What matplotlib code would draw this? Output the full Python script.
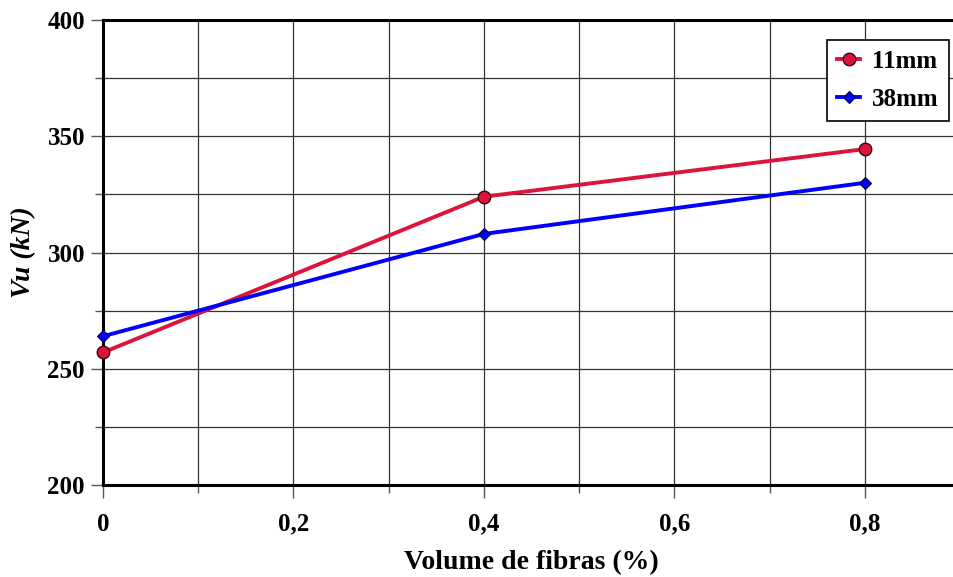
import matplotlib
matplotlib.use("Agg")
import matplotlib.pyplot as plt
from matplotlib.ticker import MultipleLocator, FuncFormatter

plt.rcParams['font.family'] = ['Liberation Serif', 'DejaVu Serif']
plt.rcParams['font.weight'] = 'bold'

# data
volume = [0.0, 0.4, 0.8]
vu_11mm = [257, 324, 344.5]
vu_38mm = [264, 308, 330]

fig = plt.figure(figsize=(9.54, 5.77), dpi=100)
ax = fig.add_axes([0.108, 0.1594, 0.8983, 0.8059])

ax.plot(volume, vu_11mm, color="#dc143c", lw=2.8, marker="o", ms=9,
        mec="#3a0010", mew=1, label="11mm", zorder=3, clip_on=False)
ax.plot(volume, vu_38mm, color="#0000ff", lw=2.8, marker="D", ms=6,
        mec="#000040", mew=0.8, label="38mm", zorder=3, clip_on=False)

ax.set_xlim(0, 0.9)
ax.set_ylim(200, 400)
ax.xaxis.set_major_locator(MultipleLocator(0.2))
ax.xaxis.set_minor_locator(MultipleLocator(0.1))
ax.yaxis.set_major_locator(MultipleLocator(50))
ax.yaxis.set_minor_locator(MultipleLocator(25))
ax.xaxis.set_major_formatter(FuncFormatter(lambda v, p: "0" if abs(v) < 1e-9 else f"{v:.1f}".replace(".", ",")))

ax.grid(True, which="both", color="#333333", lw=0.9)
ax.set_axisbelow(True)
ax.tick_params(which="major", direction="out", color="#555555", length=9, width=1, labelsize=18)
ax.tick_params(which="minor", direction="out", color="#555555", length=6, width=1)
ax.tick_params(axis="x", pad=11)
ax.tick_params(axis="y", pad=4)

for s in ["left", "top"]:
    ax.spines[s].set_linewidth(2.2)
    ax.spines[s].set_color("black")
ax.spines["bottom"].set_linewidth(2.2)
ax.spines["right"].set_visible(False)

ax.set_xlabel("Volume de fibras (%)", fontsize=20, fontweight="bold", labelpad=10)
ax.set_ylabel("Vu (kN)", fontsize=20, fontweight="bold", fontstyle="italic", labelpad=8)

leg = ax.legend(loc="upper right", bbox_to_anchor=(949 / 954, 0.9307),
                bbox_transform=fig.transFigure, fontsize=18, frameon=True,
                fancybox=False, edgecolor="black", framealpha=1,
                handlelength=0.9, handletextpad=0.5, borderpad=0.4,
                labelspacing=0.6, borderaxespad=0)
leg.get_frame().set_linewidth(1.2)

fig.savefig("out.png", dpi=100)
